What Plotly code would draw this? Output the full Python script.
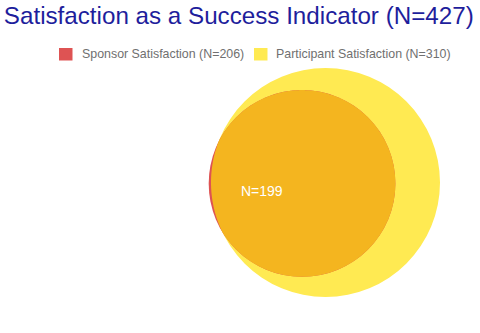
import math
import numpy as np
import plotly.graph_objects as go

# ---- data ----
set_names = ["Sponsor Satisfaction", "Participant Satisfaction"]
set_sizes = [206, 310]
overlap_size = 199
total_n = 427
set_colors = ["#DE5353", "#FFEA52"]
overlap_color = "#F4B51F"

# ---- venn geometry ----
r_s = math.sqrt(set_sizes[0] / math.pi)
r_p = math.sqrt(set_sizes[1] / math.pi)
d = (r_p - r_s) + 0.2          # sponsor circle nearly inside participant circle

cp = (0.0, 0.0)          # participant circle centre
cs = (-d, -0.08)         # sponsor circle centre (to the left)

# lens (intersection) polygon
th = np.linspace(0, 2 * np.pi, 721)
px = cs[0] + r_s * np.cos(th)
py = cs[1] + r_s * np.sin(th)
dist = np.hypot(px - cp[0], py - cp[1])
out = dist > r_p
px[out] = cp[0] + (px[out] - cp[0]) * r_p / dist[out]
py[out] = cp[1] + (py[out] - cp[1]) * r_p / dist[out]
lens_path = "M " + " L ".join(f"{x:.4f},{y:.4f}" for x, y in zip(px, py)) + " Z"

W, H = 480, 333
scale = 114.5 / r_p  # px per unit
cx_px, cy_px = 325.5, 182.5
xr = [-cx_px / scale, (W - cx_px) / scale]
yr = [-(H - cy_px) / scale, cy_px / scale]

fig = go.Figure()
fig.add_trace(go.Scatter(x=[None], y=[None], showlegend=False, hoverinfo="skip"))

shapes = [
    dict(type="circle", xref="x", yref="y",
         x0=cp[0] - r_p, x1=cp[0] + r_p, y0=cp[1] - r_p, y1=cp[1] + r_p,
         fillcolor=set_colors[1], line=dict(width=0), layer="below"),
    dict(type="circle", xref="x", yref="y",
         x0=cs[0] - r_s, x1=cs[0] + r_s, y0=cs[1] - r_s, y1=cs[1] + r_s,
         fillcolor=set_colors[0], line=dict(width=0), layer="below"),
    dict(type="path", xref="x", yref="y", path=lens_path,
         fillcolor=overlap_color, line=dict(width=0), layer="below"),
]

annotations = [
    dict(x=cs[0] - 40 / scale, y=cs[1] - 8 / scale, xref="x", yref="y",
         text=f"N={overlap_size}", showarrow=False,
         font=dict(family="Liberation Sans, Arial", size=14, color="white")),
]

# custom legend (layout positions in pixels)
legend_items = [(59, 80), (254, 274)]
leg_y = 54.5
for (sq_x, tx_x), name, n, col in zip(legend_items, set_names, set_sizes, set_colors):
    shapes.append(dict(type="rect", xref="paper", yref="paper",
                       x0=sq_x / W, x1=(sq_x + 13.5) / W,
                       y0=1 - (leg_y + 6) / H, y1=1 - (leg_y - 6.5) / H,
                       fillcolor=col, line=dict(width=0)))
    annotations.append(dict(x=tx_x / W, y=1 - (leg_y - 0.5) / H, xref="paper", yref="paper",
                            xanchor="left", yanchor="middle", showarrow=False,
                            text=f"{name} (N={n})",
                            font=dict(family="Liberation Sans, Arial", size=12.4,
                                      color="#707070")))

fig.update_layout(
    width=W, height=H,
    margin=dict(l=0, r=0, t=0, b=0),
    paper_bgcolor="white", plot_bgcolor="white",
    shapes=shapes,
    annotations=annotations,
    showlegend=False,
    title=dict(text=f"Satisfaction as a Success Indicator (N={total_n})",
               x=0.008, xanchor="left", y=1 - 16 / H, yanchor="middle",
               yref="container",
               font=dict(family="Liberation Sans, Arial", size=24.2, color="#1E1E9C")),
    xaxis=dict(range=xr, visible=False, fixedrange=True),
    yaxis=dict(range=yr, visible=False, fixedrange=True),
)

fig.write_html("out.html", config={"displayModeBar": False})
